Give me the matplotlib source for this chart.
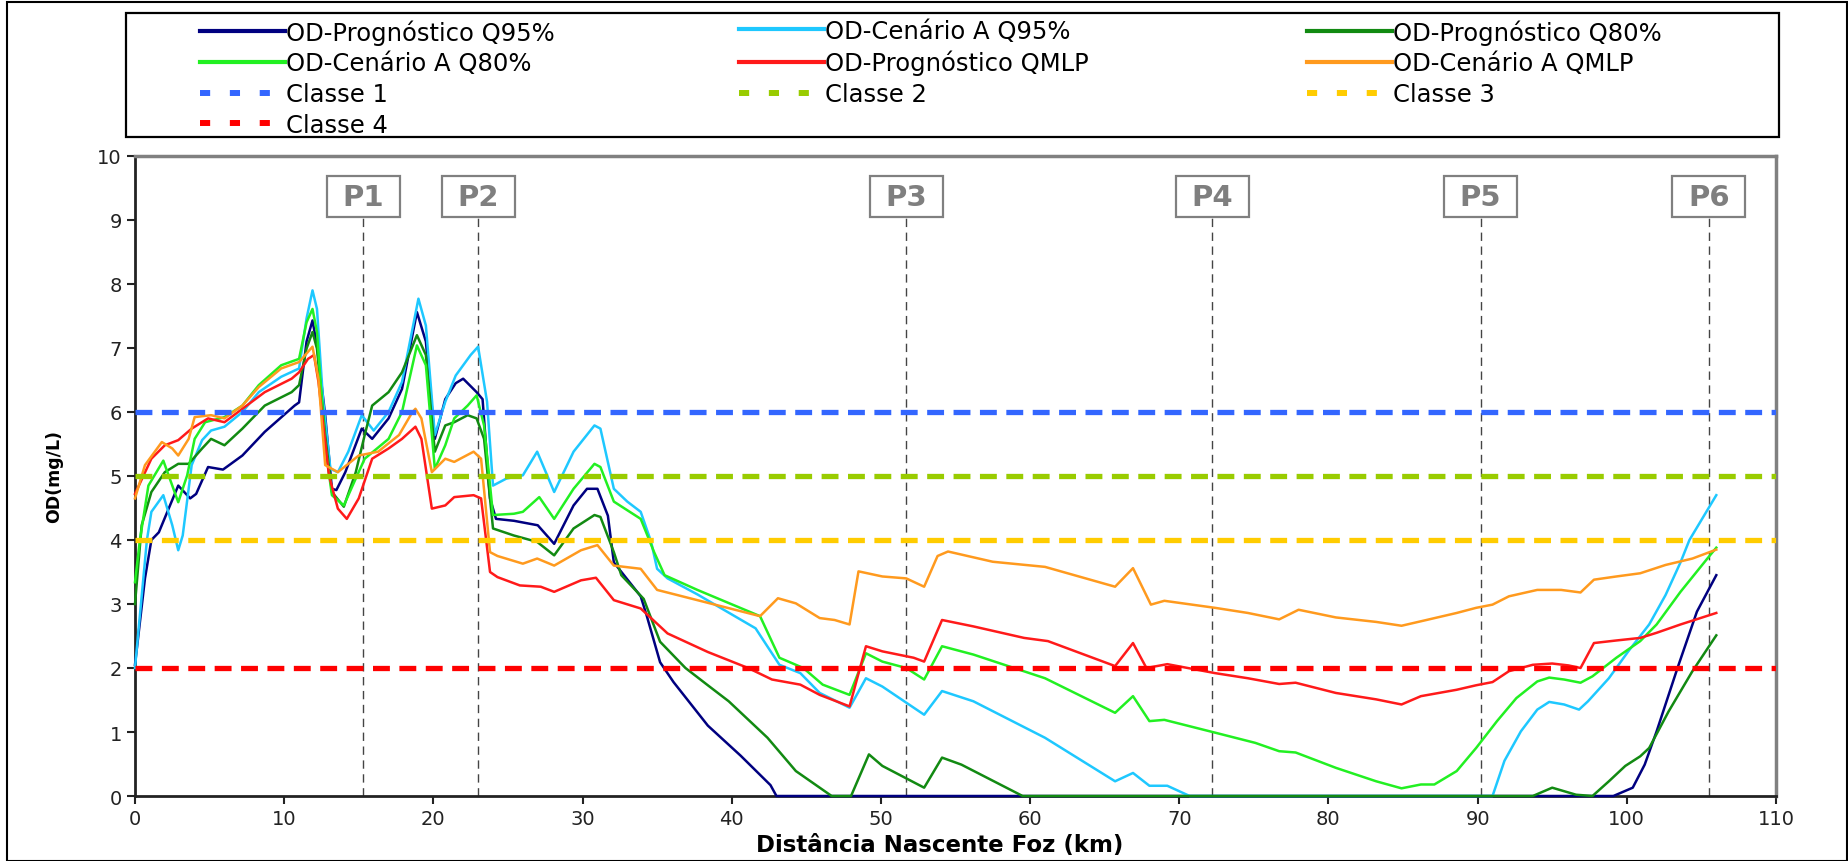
import matplotlib
matplotlib.use("Agg")
import matplotlib.pyplot as plt
from matplotlib.lines import Line2D
from matplotlib.patches import Rectangle

plt.rcParams["font.family"] = ["DejaVu Sans"]

# OD-Prognóstico Q95%
prog_q95_x = [0, 0.67, 1.1, 1.6, 2.9, 3.7, 4.1, 4.9, 5.9, 7.2, 8.7, 10.7, 11.0, 11.5, 11.9, 12.2,
              12.75, 13.2, 13.5, 14.1, 15.2, 15.9, 17.0, 17.9, 18.9, 19.5, 20.1, 20.8, 21.5, 22.0,
              22.9, 23.3, 23.8, 24.2, 25.4, 27.0, 28.1, 29.4, 30.3, 31.0, 31.7, 32.1, 33.9, 34.3,
              35.2, 36.1, 38.4, 40.6, 42.6, 43.0, 99.1, 100.4, 101.2, 102.0, 103.4, 104.7, 106.0]
prog_q95_y = [2.05, 3.4, 4.0, 4.12, 4.85, 4.65, 4.72, 5.14, 5.1, 5.32, 5.69, 6.1, 6.15, 7.1, 7.43,
              7.04, 5.95, 4.8, 4.78, 5.06, 5.74, 5.58, 5.9, 6.36, 7.56, 7.1, 5.58, 6.2, 6.45, 6.52,
              6.31, 6.2, 4.65, 4.33, 4.3, 4.23, 3.94, 4.54, 4.8, 4.8, 4.38, 3.65, 3.12, 2.82,
              2.09, 1.78, 1.1, 0.63, 0.17, 0, 0, 0.13, 0.49, 1.01, 2.0, 2.88, 3.45]

# OD-Cenário A Q95%
cen_q95_x = [0, 0.8, 1.1, 1.9, 2.5, 2.9, 3.2, 3.8, 4.5, 5.1, 6.0, 7.2, 8.3, 9.8, 11.0, 11.5, 11.9,
             12.2, 12.6, 13.1, 13.6, 14.3, 15.2, 16.0, 17.0, 17.9, 19.0, 19.5, 20.1, 20.8, 21.5,
             22.5, 23.0, 23.6, 24.0, 24.9, 26.0, 26.96, 28.1, 29.4, 30.8, 31.2, 32.1, 33.0, 33.9,
             34.6, 35.0, 35.7, 37.7, 41.6, 43.2, 44.6, 45.9, 47.9, 49.0, 50.1, 52.9, 54.1, 56.2,
             61.0, 65.7, 66.9, 68.0, 69.2, 70.7, 91.0, 91.8, 92.9, 94.0, 94.8, 95.8, 96.8, 97.4,
             98.8, 100.1, 101.5, 102.6, 103.6, 104.2, 106.0]
cen_q95_y = [2.0, 4.0, 4.44, 4.7, 4.23, 3.84, 4.07, 5.17, 5.56, 5.71, 5.77, 6.0, 6.31, 6.55, 6.68,
             7.46, 7.9, 7.61, 6.21, 5.11, 5.06, 5.38, 5.95, 5.71, 6.0, 6.47, 7.77, 7.35, 5.64,
             6.16, 6.57, 6.89, 7.02, 6.16, 4.85, 4.96, 5.01, 5.38, 4.75, 5.38, 5.79, 5.74, 4.8,
             4.6, 4.44, 3.97, 3.55, 3.4, 3.15, 2.62, 2.05, 1.92, 1.61, 1.38, 1.84, 1.71, 1.27,
             1.64, 1.48, 0.91, 0.23, 0.36, 0.16, 0.16, 0.0, 0.0, 0.55, 1.01, 1.35, 1.47, 1.43,
             1.35, 1.48, 1.84, 2.26, 2.68, 3.14, 3.65, 4.0, 4.7]

# OD-Prognóstico Q80%
prog_q80_x = [0, 0.45, 1.1, 2.0, 2.9, 3.6, 4.5, 5.1, 6.0, 7.2, 8.7, 10.5, 11.0, 11.5, 11.9, 12.2,
              12.75, 13.2, 14.0, 14.8, 15.4, 15.9, 17.0, 17.9, 18.9, 19.5, 20.1, 20.8, 21.4, 22.3,
              22.9, 23.4, 24.0, 25.4, 26.96, 28.1, 29.4, 30.8, 31.2, 32.1, 32.6, 34.1, 35.2, 36.9,
              38.4, 39.8, 42.4, 44.3, 46.7, 48.0, 49.2, 50.1, 52.9, 54.1, 55.4, 59.5, 93.7, 95.0,
              96.6, 97.7, 98.8, 99.9, 100.9, 101.5, 102.8, 104.4, 106.0]
prog_q80_y = [3.0, 4.23, 4.75, 5.06, 5.19, 5.19, 5.43, 5.58, 5.48, 5.74, 6.1, 6.31, 6.42, 6.99,
              7.25, 6.99, 5.64, 4.75, 4.52, 5.06, 5.64, 6.1, 6.31, 6.62, 7.2, 6.89, 5.38, 5.79,
              5.84, 5.95, 5.9, 5.58, 4.18, 4.07, 3.97, 3.76, 4.18, 4.39, 4.36, 3.81, 3.45, 3.08,
              2.41, 2.0, 1.73, 1.48, 0.91, 0.39, 0.0, 0.0, 0.65, 0.47, 0.13, 0.6, 0.49, 0.0, 0.0,
              0.13, 0.02, 0.0, 0.23, 0.47, 0.62, 0.75, 1.32, 1.95, 2.51]

# OD-Cenário A Q80%
cen_q80_x = [0, 0.33, 0.9, 1.9, 2.5, 2.9, 3.5, 4.0, 4.7, 6.0, 7.2, 8.3, 9.8, 11.0, 11.5, 11.9,
             12.2, 12.75, 13.2, 14.0, 14.8, 15.4, 17.0, 17.9, 18.9, 19.5, 20.1, 20.8, 21.4, 22.3,
             22.9, 23.4, 24.0, 25.4, 26.0, 27.1, 28.1, 29.4, 30.8, 31.2, 32.1, 33.9, 34.8, 35.5,
             37.7, 41.9, 43.2, 44.8, 46.1, 47.9, 49.0, 50.1, 51.7, 52.9, 54.1, 56.2, 61.0, 65.7,
             66.9, 68.0, 69.0, 72.4, 75.1, 76.7, 77.8, 80.5, 83.2, 84.9, 86.2, 87.1, 88.6, 89.9,
             91.3, 92.6, 94.0, 94.8, 95.8, 96.9, 97.7, 99.3, 100.9, 102.0, 103.6, 105.4, 106.0]
cen_q80_y = [3.34, 4.0, 4.85, 5.24, 4.85, 4.59, 5.01, 5.58, 5.84, 5.92, 6.1, 6.42, 6.73, 6.83,
             7.4, 7.61, 7.25, 5.48, 4.7, 4.54, 4.96, 5.27, 5.58, 6.0, 7.04, 6.73, 5.11, 5.48, 5.9,
             6.1, 6.26, 5.79, 4.39, 4.41, 4.44, 4.67, 4.33, 4.8, 5.19, 5.14, 4.6, 4.33, 3.81,
             3.45, 3.22, 2.81, 2.16, 2.0, 1.74, 1.58, 2.23, 2.1, 2.0, 1.82, 2.34, 2.21, 1.84, 1.3,
             1.56, 1.17, 1.19, 0.99, 0.83, 0.7, 0.68, 0.44, 0.23, 0.12, 0.18, 0.18, 0.39, 0.75,
             1.17, 1.53, 1.79, 1.85, 1.82, 1.77, 1.87, 2.16, 2.42, 2.68, 3.19, 3.71, 3.88]

# OD-Prognóstico QMLP
prog_qmlp_x = [0, 1.1, 2.0, 2.9, 3.8, 4.9, 6.0, 7.2, 8.7, 10.5, 11.0, 11.6, 12.0, 12.3, 13.0,
               13.6, 14.2, 15.0, 15.9, 17.0, 17.9, 18.8, 19.2, 19.9, 20.8, 21.4, 22.7, 23.2, 23.8,
               24.3, 25.8, 27.2, 28.1, 29.9, 30.9, 32.1, 33.9, 35.7, 38.4, 41.1, 42.7, 44.6, 45.9,
               47.9, 49.0, 50.1, 52.2, 52.9, 54.1, 56.2, 59.6, 61.2, 65.7, 66.9, 67.8, 69.2, 72.4,
               74.6, 76.7, 77.8, 80.5, 83.2, 84.9, 86.2, 88.6, 89.9, 91.0, 92.1, 93.7, 95.0, 96.1,
               96.9, 97.8, 99.3, 100.9, 102.0, 103.6, 106.0]
prog_qmlp_y = [4.72, 5.27, 5.48, 5.56, 5.74, 5.9, 5.84, 6.05, 6.31, 6.52, 6.62, 6.83, 6.89, 6.47,
               5.01, 4.49, 4.33, 4.65, 5.27, 5.43, 5.58, 5.77, 5.58, 4.49, 4.54, 4.67, 4.7, 4.65,
               3.5, 3.42, 3.29, 3.27, 3.19, 3.37, 3.41, 3.06, 2.93, 2.54, 2.25, 2.0, 1.82, 1.74,
               1.58, 1.40, 2.34, 2.26, 2.16, 2.1, 2.75, 2.65, 2.47, 2.42, 2.03, 2.39, 2.0, 2.06,
               1.92, 1.84, 1.75, 1.77, 1.61, 1.51, 1.43, 1.56, 1.66, 1.73, 1.78, 1.95, 2.05, 2.07,
               2.04, 2.0, 2.39, 2.43, 2.47, 2.55, 2.68, 2.86]

# OD-Cenário A QMLP
cen_qmlp_x = [0, 0.67, 1.8, 2.5, 2.9, 3.6, 4.0, 5.1, 6.0, 7.2, 8.3, 9.8, 11.0, 11.9, 12.3, 12.75,
              13.6, 15.0, 16.3, 17.7, 18.6, 18.8, 19.2, 19.9, 20.8, 21.4, 22.7, 23.2, 23.8, 24.3,
              26.0, 26.96, 28.1, 29.9, 31.0, 32.1, 33.9, 35.0, 37.7, 41.9, 43.1, 44.3, 45.9, 46.9,
              47.9, 48.5, 50.1, 51.7, 52.9, 53.8, 54.5, 57.5, 61.0, 65.7, 66.9, 68.1, 69.0, 72.4,
              74.6, 76.7, 78.0, 80.5, 83.2, 84.9, 86.2, 88.6, 89.9, 91.0, 92.1, 94.0, 95.6, 96.9,
              97.8, 99.3, 100.9, 102.6, 104.4, 106.0]
cen_qmlp_y = [4.65, 5.17, 5.53, 5.43, 5.32, 5.58, 5.92, 5.95, 5.9, 6.1, 6.39, 6.68, 6.78, 7.02,
              6.52, 5.17, 5.06, 5.32, 5.38, 5.64, 6.0, 6.05, 5.9, 5.06, 5.27, 5.22, 5.38, 5.27,
              3.81, 3.75, 3.63, 3.71, 3.6, 3.84, 3.92, 3.6, 3.55, 3.22, 3.06, 2.81, 3.09, 3.01,
              2.78, 2.75, 2.68, 3.51, 3.43, 3.40, 3.27, 3.75, 3.82, 3.66, 3.58, 3.27, 3.56, 2.99,
              3.05, 2.94, 2.86, 2.76, 2.91, 2.79, 2.72, 2.66, 2.73, 2.86, 2.94, 2.99, 3.12, 3.22,
              3.22, 3.18, 3.38, 3.43, 3.48, 3.61, 3.71, 3.85]

series_names = ["OD-Prognóstico Q95%", "OD-Cenário A Q95%", "OD-Prognóstico Q80%",
                "OD-Cenário A Q80%", "OD-Prognóstico QMLP", "OD-Cenário A QMLP"]
series_colors = ["#000080", "#1EC8FF", "#128A12", "#22F022", "#FF1A1A", "#FF9A1E"]

class_names = ["Classe 1", "Classe 2", "Classe 3", "Classe 4"]
class_values = [6, 5, 4, 2]
class_colors = ["#3366FF", "#99CC00", "#FFCC00", "#FF0000"]

point_names = ["P1", "P2", "P3", "P4", "P5", "P6"]
point_km = [15.3, 23.0, 51.7, 72.2, 90.2, 105.5]

series_x = [prog_q95_x, cen_q95_x, prog_q80_x, cen_q80_x, prog_qmlp_x, cen_qmlp_x]
series_y = [prog_q95_y, cen_q95_y, prog_q80_y, cen_q80_y, prog_qmlp_y, cen_qmlp_y]

W, H = 1849, 862
fig = plt.figure(figsize=(W / 100, H / 100), dpi=100)
ax = fig.add_axes([0.073, 0.0754, 0.8875, 0.7425])

# monitoring points: dashed line + boxed label
for name, km in zip(point_names, point_km):
    ax.plot([km, km], [0, 9.04], color="#444444", lw=1.0, ls=(0, (6, 4)), zorder=1)
    ax.add_patch(Rectangle((km - 2.45, 9.04), 4.9, 0.64, fc="white", ec="#808080", lw=1.6,
                           zorder=2))
    ax.text(km, 9.36, name, ha="center", va="center", fontsize=21, fontweight="bold",
            color="#7f7f7f", zorder=3)

handles = []
for xs, ys, c in zip(series_x, series_y, series_colors):
    ax.plot(xs, ys, color=c, lw=1.8, clip_on=False, zorder=3)
    handles.append(Line2D([], [], color=c, lw=3))

for v, c in zip(class_values, class_colors):
    ax.axhline(v, color=c, lw=3.8, ls=(0, (3.2, 1.8)), zorder=4)
    handles.append(Line2D([], [], color=c, lw=4.3, ls=(0, (1.7, 3.3))))

labels = series_names + class_names
# legend written row by row in three columns, each column placed on its own
columns = [[0, 3, 6, 9], [1, 4, 7], [2, 5, 8]]
col_x = [200, 739, 1307]
for idx, x0 in zip(columns, col_x):
    fig.legend([handles[i] for i in idx], [labels[i] for i in idx],
               loc="upper left", bbox_to_anchor=(x0 / W, 1 - 20 / H),
               fontsize=17.5, handlelength=3.5, handletextpad=0.05, labelspacing=0.28,
               borderpad=0, borderaxespad=0, frameon=False)

# legend frame
fig.patches.append(Rectangle((126 / W, 1 - 138 / H), 1653 / W, 124 / H,
                             transform=fig.transFigure, fill=False, ec="black", lw=1.6))
# outer frame
fig.patches.append(Rectangle((0.004, 0.0), 0.995, 0.996, transform=fig.transFigure,
                             fill=False, ec="black", lw=1.5))

ax.set_xlim(0, 110)
ax.set_ylim(0, 10)
ax.set_xticks(range(0, 111, 10))
ax.set_yticks(range(0, 11))
ax.tick_params(labelsize=14, length=6, width=1.5, direction="out", colors="#222222")
for s in ["left", "bottom"]:
    ax.spines[s].set_linewidth(2)
    ax.spines[s].set_color("#222222")
for s in ["top", "right"]:
    ax.spines[s].set_linewidth(2.5)
    ax.spines[s].set_color("#808080")

ax.set_xlabel("Distância Nascente Foz (km)", fontsize=16.5, fontweight="bold")
ax.xaxis.set_label_coords(0.4905, -0.058)
ax.set_ylabel("OD(mg/L)", fontsize=12.5, fontweight="bold")
ax.yaxis.set_label_coords(-0.044, 0.5)

fig.savefig("out.png", dpi=100)
